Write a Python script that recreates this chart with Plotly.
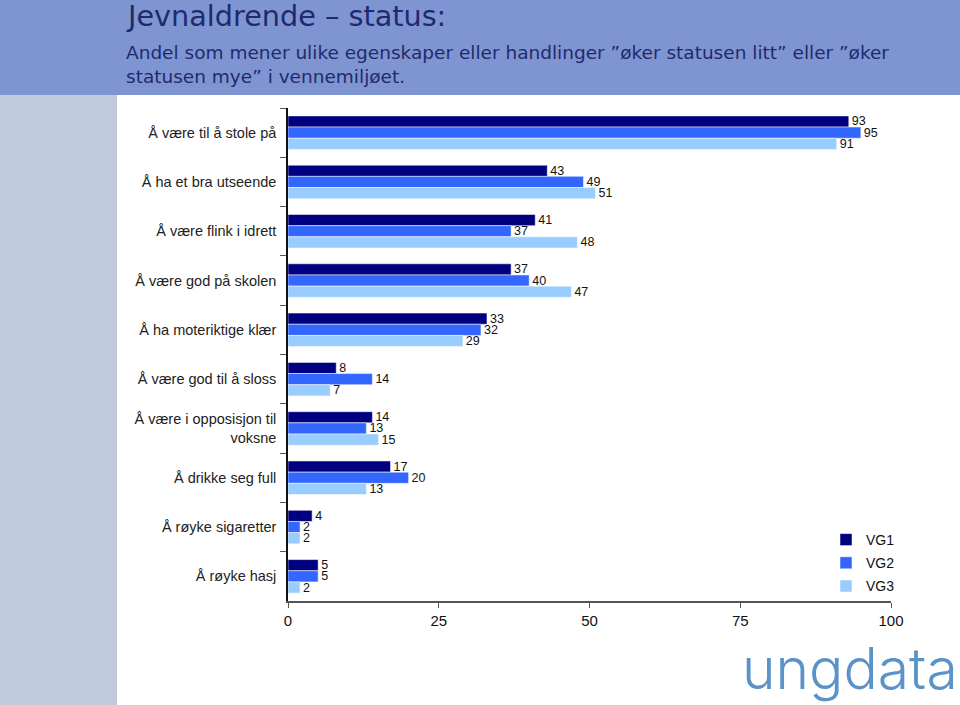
import plotly.graph_objects as go

categories = [
    "Å være til å stole på",
    "Å ha et bra utseende",
    "Å være flink i idrett",
    "Å være god på skolen",
    "Å ha moteriktige klær",
    "Å være god til å sloss",
    "Å være i opposisjon til<br>voksne",
    "Å drikke seg full",
    "Å røyke sigaretter",
    "Å røyke hasj",
]
vg1 = [93, 43, 41, 37, 33, 8, 14, 17, 4, 5]
vg2 = [95, 49, 37, 40, 32, 14, 13, 20, 2, 5]
vg3 = [91, 51, 48, 47, 29, 7, 15, 13, 2, 2]
series_names = ["VG1", "VG2", "VG3"]
series_colors = ["#000080", "#3366ff", "#99ccff"]
tick_vals = [0, 25, 50, 75, 100]

W, H = 960, 705
fig = go.Figure()
for name, vals, col in zip(series_names, [vg1, vg2, vg3], series_colors):
    fig.add_trace(go.Bar(
        y=categories, x=vals, name=name, orientation="h", legendgroup=name,
        marker=dict(color=col, line=dict(color="white", width=0.5)),
        text=[str(v) for v in vals], textposition="outside", constraintext="none",
        textfont=dict(family="Arial, Liberation Sans", size=12.5, color="#111"),
        cliponaxis=False,
    ))

x0, x1 = 288 / W, 891 / W
y0, y1 = 1 - 601 / H, 1 - 108 / H

fig.update_layout(
    width=W, height=H,
    margin=dict(l=0, r=0, t=0, b=0, autoexpand=False),
    paper_bgcolor="white", plot_bgcolor="white",
    barmode="group", bargap=0.32, bargroupgap=0,
    showlegend=True,
    legend=dict(x=826 / W, y=1 - 524 / H, xanchor="left", yanchor="top",
                font=dict(family="Arial, Liberation Sans", size=14, color="#111"),
                tracegroupgap=2, itemwidth=30, bgcolor="rgba(0,0,0,0)"),
    xaxis=dict(domain=[x0, x1], range=[0, 100], tickvals=tick_vals,
               ticks="outside", ticklen=5, tickcolor="#555", showgrid=False,
               showline=True, linecolor="#555", linewidth=2, zeroline=False,
               tickfont=dict(family="Arial, Liberation Sans", size=15, color="#111")),
    yaxis=dict(domain=[y0, y1], autorange="reversed", showgrid=False,
               showline=True, linecolor="#111", linewidth=1.5,
               ticks="outside", tickson="boundaries", ticklen=6, tickcolor="#555",
               ticklabelstandoff=7,
               tickfont=dict(family="Arial, Liberation Sans", size=14.5, color="#222")),
    shapes=[
        dict(type="rect", xref="paper", yref="paper", x0=0, x1=1, y0=1 - 95 / H, y1=1,
             fillcolor="#7f95d1", line=dict(width=0), layer="below"),
        dict(type="rect", xref="paper", yref="paper", x0=0, x1=117 / W, y0=0, y1=1 - 95 / H,
             fillcolor="#c0cadd", line=dict(width=0), layer="below"),
    ],
    annotations=[
        dict(text="Jevnaldrende – status:", xref="paper", yref="paper",
             x=124 / W, y=1 - 16 / H, xanchor="left", yanchor="middle", showarrow=False,
             font=dict(family="DejaVu Sans", size=28.7, color="#1f2a6e")),
        dict(text="Andel som mener ulike egenskaper eller handlinger ”øker statusen litt” eller ”øker<br>statusen mye” i vennemiljøet.",
             xref="paper", yref="paper", x=124 / W, y=1 - 64 / H, xanchor="left", yanchor="middle",
             align="left", showarrow=False,
             font=dict(family="DejaVu Sans", size=18.5, color="#1f2a6e")),
        dict(text="ungdata", xref="paper", yref="paper", x=960 / W, y=0 / H,
             xanchor="right", yanchor="bottom", showarrow=False,
             font=dict(family="Inter, DejaVu Sans", size=57, color="#5b93c9", weight=300)),
    ],
)

fig.write_html("out.html", config={"displayModeBar": False},
               post_script="document.body.style.margin='0';document.body.style.overflow='hidden';")
